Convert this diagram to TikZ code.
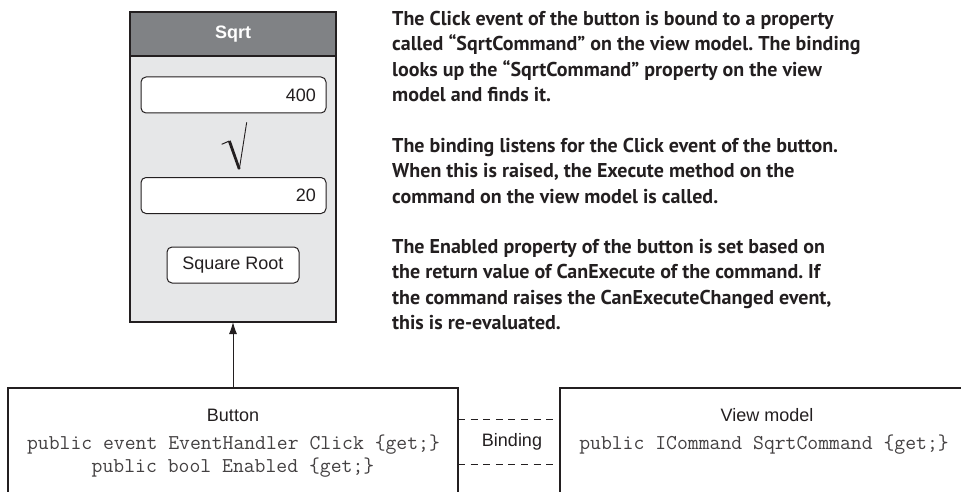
\documentclass[tikz,border=0pt]{standalone}
\usepackage{fontspec}
\setmainfont{Liberation Sans}
\newfontfamily\descfont{PT Sans}
\usetikzlibrary{arrows.meta}
\definecolor{ink}{HTML}{231F20}
\definecolor{hdr}{HTML}{808285}
\definecolor{bodygray}{HTML}{E6E7E8}
\frenchspacing
\begin{document}
\begin{tikzpicture}[x=1pt,y=-1pt,
  frame/.style={draw=ink, line width=1.2pt, inner sep=0pt, outer sep=0pt},
  field/.style={draw=ink, fill=white, rounded corners=5pt, line width=1pt, minimum height=36pt, inner xsep=10pt, font=\fontsize{18}{20}\selectfont, text=ink},
  uibox/.style={draw=ink, fill=white, line width=1.2pt, minimum height=120pt, inner sep=0pt, outer sep=0pt},
  lbl/.style={font=\fontsize{18}{20}\selectfont, text=ink},
  code/.style={font=\ttfamily\fontsize{21.1}{24}\selectfont, text=ink!85},
  desc/.style={font=\descfont\bfseries\fontsize{20}{25.35}\selectfont, text=ink, align=left, anchor=north west, inner sep=0pt},
  dashline/.style={draw=ink, line width=1pt, dash pattern=on 7pt off 5.6pt},
  arrowline/.style={draw=ink, line width=1pt, -{Latex[length=12pt,width=8pt]}}
]
\useasboundingbox (0,0) rectangle (961,492);

% phone mockup
\node[frame, fill=bodygray, minimum width=206pt, minimum height=310pt] (phone) at (233,167) {};
\node[frame, fill=hdr, minimum width=206pt, minimum height=44pt, font=\bfseries\fontsize{18}{20}\selectfont, text=white] (header) at (233,34) {Sqrt};
\node[field, minimum width=185pt, text width=165pt, align=right] (input) at (233.5,95) {400};
\node[field, minimum width=185pt, text width=165pt, align=right] (output) at (233.5,195.5) {20};
\node[field, minimum width=132pt] (sqbtn) at (233,265) {Square Root};

% radical sign
\draw[ink, line width=1pt] (221.7,144.3) -- (229.3,141);
\fill[ink] (228,141.5) -- (230.7,140.5) -- (240.5,168.5) -- (238,169.5) -- cycle;
\draw[ink, line width=0.9pt] (239.3,169.3) -- (246.7,122.3);

% description
\node[desc] (p1) at (392,11) {The Click event of the button is bound to a property\\called “SqrtCommand” on the view model. The binding\\looks up the “SqrtCommand” property on the view\\model and finds it.};
\node[desc] (p2) at (392,138) {The binding listens for the Click event of the button.\\When this is raised, the Execute method on the\\command on the view model is called.};
\node[desc] (p3) at (392,239) {The Enabled property of the button is set based on\\the return value of CanExecute of the command. If\\the command raises the CanExecuteChanged event,\\this is re-evaluated.};

% bottom boxes
\node[uibox, minimum width=450pt] (btnbox) at (233,448) {};
\node[lbl] (btnlbl) at (233,415) {Button};
\node[code] (code1) at (233.5,445) {public event EventHandler Click \{get;\}};
\node[code] (code2) at (233,468) {public bool Enabled \{get;\}};

\node[uibox, minimum width=410pt] (vmbox) at (765,448) {};
\node[lbl] (vmlbl) at (767,415) {View model};
\node[code] (code3) at (764,445) {public ICommand SqrtCommand \{get;\}};

\node[lbl] (bindlbl) at (512,442) {Binding};
\draw[dashline] ([yshift=29pt]btnbox.east) -- ([yshift=29pt]vmbox.west);
\draw[dashline] ([yshift=-16pt]btnbox.east) -- ([yshift=-16pt]vmbox.west);

\draw[arrowline] (btnbox.north) -- (phone.south);
\end{tikzpicture}
\end{document}
